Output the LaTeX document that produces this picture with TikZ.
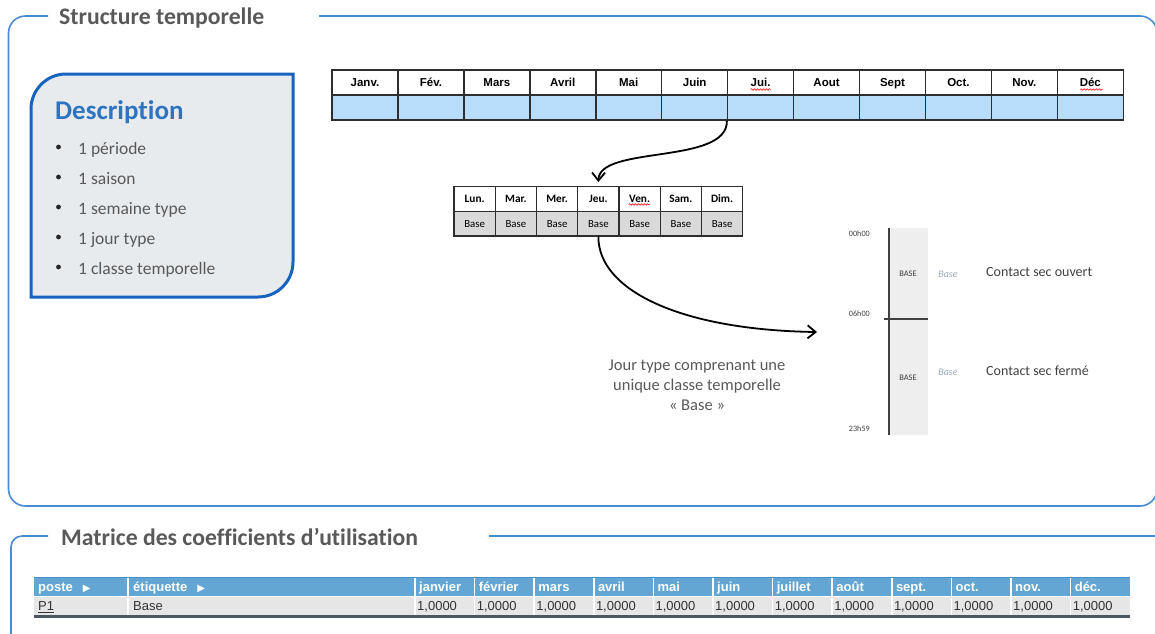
\documentclass[tikz,border=0pt]{standalone}
\usepackage{fontspec}
\setmainfont{Carlito}[Ligatures={NoCommon}]
\newfontfamily\arialf{Liberation Sans}
\newfontfamily\dejavu{DejaVu Sans}
\usetikzlibrary{arrows.meta,decorations.pathmorphing}
\definecolor{frameblue}{HTML}{4A8AD2}
\definecolor{titlegray}{HTML}{595959}
\definecolor{descblue}{HTML}{2E74C0}
\definecolor{descborder}{HTML}{1862C0}
\definecolor{descfill}{HTML}{E8EBEE}
\definecolor{monthblue}{HTML}{B8DDFB}
\definecolor{cellline}{HTML}{2E2E2E}
\definecolor{weekgray}{HTML}{D9D9D9}
\definecolor{tlfill}{HTML}{EEEEEE}
\definecolor{tlline}{HTML}{404040}
\definecolor{baseital}{HTML}{9DA8B6}
\definecolor{hdrblue}{HTML}{63A6D3}
\definecolor{hdrtop}{HTML}{4A90C8}
\definecolor{rowgray}{HTML}{E6E6E6}
\definecolor{botline}{HTML}{4C5763}
\definecolor{datatext}{HTML}{333333}
\newcommand{\setfs}[2]{\fontsize{#1}{#2}\selectfont}
\begin{document}
\begin{tikzpicture}[x=1pt,y=-1pt,
  frame/.style={draw=frameblue,line width=1.6pt},
  ttl/.style={anchor=base west,inner sep=0,text=titlegray,font=\setfs{23.7}{26}\bfseries},
  bullettxt/.style={anchor=base west,inner sep=0,text=titlegray,font=\setfs{17.5}{20}},
  mhead/.style={draw=cellline,line width=1.5pt,fill=white,minimum width=65.94pt,minimum height=25pt,inner sep=0,text height=8.3pt,text depth=0.3pt,font=\arialf\bfseries\setfs{11.5}{12}},
  mval/.style={mhead,fill=monthblue},
  whead/.style={draw=cellline,line width=1.4pt,fill=white,minimum width=41.25pt,minimum height=24.6pt,inner sep=0,text height=7.6pt,text depth=0.3pt,font=\bfseries\setfs{11.3}{12}},
  wval/.style={whead,fill=weekgray,font=\setfs{10.8}{12}},
  squig/.style={draw=red,line width=0.6pt,decorate,decoration={snake,amplitude=0.8pt,segment length=3pt}},
  conn/.style={draw=black,line width=1.8pt,-{Straight Barb[length=8pt,width=13pt]}},
  tllab/.style={anchor=east,inner sep=0,text=tlline,font=\setfs{8.2}{9}},
  tlbase/.style={inner sep=0,text=tlline,font=\setfs{8.5}{9}},
  tlital/.style={inner sep=0,text=baseital,font=\itshape\setfs{10}{10}},
  contact/.style={anchor=west,inner sep=0,text=tlline,font=\setfs{14}{16}},
  mxhead/.style={anchor=base west,inner sep=0,text=white,font=\arialf\bfseries\setfs{13}{14}},
  mxdata/.style={anchor=base west,inner sep=0,text=datatext,font=\arialf\setfs{13}{14}}
]
\useasboundingbox (0,0) rectangle (1155,633);

% frames
\draw[frame,rounded corners=17] (48,16) -- (8.5,16) -- (8.5,506) -- (1157,506) -- (1157,16) -- (319,16);
\draw[frame,rounded corners=11] (48,536) -- (11,536) -- (11,650);
\draw[frame] (489,536) -- (1160,536);
\node[ttl] (t1) at (59,24.5) {Structure temporelle};
\node[ttl] (t2) at (61,545) {Matrice des coefficients d’utilisation};

% description box
\filldraw[fill=descfill,draw=descborder,line width=3pt]
  (31,297) -- (31,109) .. controls (31,89.7) and (46.7,74) .. (66,74)
  -- (293,74) -- (293,262) .. controls (293,281.3) and (277.3,297) .. (258,297) -- cycle;
\node[anchor=base west,inner sep=0,text=descblue,font=\setfs{27}{30}\bfseries] (dtitle) at (55,119.5) {Description};
\foreach \t [count=\i] in {1 période,1 saison,1 semaine type,1 jour type,1 classe temporelle}{
  \fill[black!85] (58.5,{154+30*(\i-1)-7}) circle (2.4);
  \node[bullettxt] (b\i) at (78,{154+30*(\i-1)}) {\t};
}

% month table
\foreach \m [count=\i] in {Janv.,Fév.,Mars,Avril,Mai,Juin,Jui.,Aout,Sept,Oct.,Nov.,Déc}{
  \node[mhead] (mh\i) at ({332+65.94*(\i-0.5)},82.5) {\m};
  \node[mval] (mv\i) at ({332+65.94*(\i-0.5)},107.5) {};
}
\draw[squig] ([shift={(-10,7)}]mh7.center) -- ([shift={(10,7)}]mh7.center);
\draw[squig] ([shift={(-10,7)}]mh12.center) -- ([shift={(12,7)}]mh12.center);

% week table
\foreach \d [count=\i] in {Lun.,Mar.,Mer.,Jeu.,Ven.,Sam.,Dim.}{
  \node[whead] (wh\i) at ({454+41.25*(\i-0.5)},199) {\d};
  \node[wval] (wv\i) at ({454+41.25*(\i-0.5)},223.6) {Base};
}
\draw[squig] ([shift={(-11,5.5)}]wh5.center) -- ([shift={(10,5.5)}]wh5.center);

% timeline
\fill[tlfill] (888,228) rectangle (928,435);
\draw[tlline,line width=2pt] (889,228) -- (889,435);
\draw[tlline,line width=2pt] (884,319) -- (928,319);
\node[tllab] (h0) at (870,234) {00h00};
\node[tllab] (h6) at (870,314) {06h00};
\node[tllab] (h23) at (870,429) {23h59};
\node[tlbase] (ba1) at (908,274) {BASE};
\node[tlbase] (ba2) at (908,378) {BASE};
\node[tlital] (bi1) at (948,274) {Base};
\node[tlital] (bi2) at (948,372) {Base};
\node[contact] (c1) at (986,272) {Contact sec ouvert};
\node[contact] (c2) at (986,371) {Contact sec fermé};

% connectors
\coordinate (tlin) at (817,332);
\draw[conn] (mv7.south west) .. controls (728,165) and (599,145) .. ([yshift=4pt]wh4.north);
\draw[conn] (wv4.south) .. controls (598,290) and (680,330) .. (tlin);

\node[align=center,inner sep=0,text=titlegray,font=\setfs{16.5}{20}] (jt) at (697,385)
  {Jour type comprenant une\\unique classe temporelle\\« Base »};

% matrix
\fill[hdrblue] (34,577) rectangle (1130,596);
\draw[hdrtop,line width=1.2pt] (34,577.5) -- (1130,577.5);
\fill[rowgray] (34,597) rectangle (1130,615);
\draw[botline,line width=2.2pt] (34,616.5) -- (1130,616.5);
\foreach \x in {128,415,474.6,534.2,593.8,653.4,713,772.6,832.2,891.8,951.4,1011,1070.6}{
  \draw[white,line width=1.5pt] (\x,578) -- (\x,615);
}
\node[mxhead] (hp) at (38,591) {poste\hspace{10pt}{\dejavu\setfs{10}{10}▶}};
\node[mxhead] (he) at (133,591) {étiquette\hspace{10pt}{\dejavu\setfs{10}{10}▶}};
\foreach \m [count=\i] in {janvier,février,mars,avril,mai,juin,juillet,août,sept.,oct.,nov.,déc.}{
  \node[mxhead] (hm\i) at ({415+59.6*(\i-1)+4},591) {\m};
  \node[mxdata] (dm\i) at ({415+59.6*(\i-1)+2},610.5) {1,0000};
}
\node[mxdata] (dp) at (38,610.5) {\underline{P1}};
\node[mxdata] (de) at (133,610.5) {Base};
\end{tikzpicture}
\end{document}
